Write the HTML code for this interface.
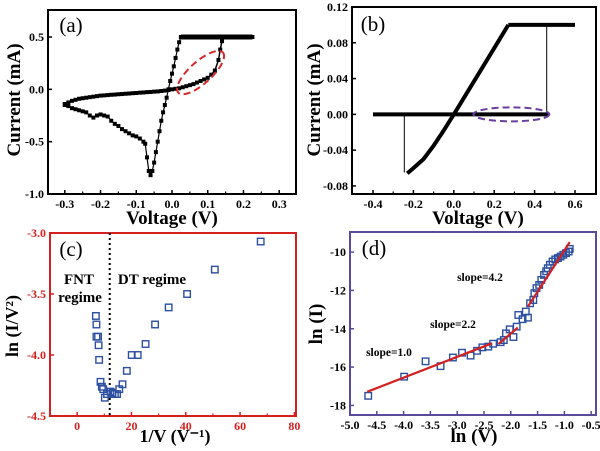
<!DOCTYPE html>
<html><head><meta charset="utf-8"><style>
html,body{margin:0;padding:0;background:#fff;}
svg{display:block;font-family:"Liberation Serif",serif;font-weight:bold;}
</style></head><body>
<svg id="fig" width="600" height="451" viewBox="0 0 600 451" xmlns="http://www.w3.org/2000/svg"></svg>
<script>
// ---- Panel (a) data ----
const aUpperV=[-0.3,-0.29,-0.28,-0.27,-0.26,-0.25,-0.24,-0.23,-0.22,-0.21,-0.2,-0.19,-0.18,-0.17,-0.16,-0.15,-0.14,-0.13,-0.12,-0.11,-0.1,-0.09,-0.08,-0.07,-0.06,-0.05,-0.04,-0.03,-0.02,-0.01,0,0.01,0.02,0.03,0.04,0.05,0.06,0.07,0.08,0.09,0.1,0.11,0.12,0.13,0.135,0.14];
const aUpperI=[-0.14,-0.125,-0.11,-0.1,-0.09,-0.085,-0.08,-0.075,-0.07,-0.065,-0.06,-0.058,-0.055,-0.052,-0.05,-0.047,-0.045,-0.042,-0.04,-0.037,-0.035,-0.032,-0.03,-0.027,-0.025,-0.022,-0.02,-0.016,-0.012,-0.006,0,0.005,0.01,0.02,0.03,0.04,0.05,0.065,0.08,0.095,0.11,0.14,0.18,0.28,0.38,0.46];
const aFlatV=[0.14,0.15,0.16,0.17,0.18,0.19,0.2,0.21,0.225,0.21,0.2,0.19,0.18,0.17,0.16,0.15,0.14,0.13,0.12,0.11,0.1,0.09,0.08,0.07,0.06,0.05,0.04,0.03,0.025];
const aFlatI=[0.5,0.5,0.5,0.5,0.5,0.5,0.5,0.5,0.5,0.5,0.5,0.5,0.5,0.5,0.5,0.5,0.5,0.5,0.5,0.5,0.5,0.5,0.5,0.5,0.5,0.5,0.5,0.5,0.5];
const aDownV=[0.025,0.02,0.015,0.01,0.005,0,-0.005,-0.01,-0.015,-0.02,-0.025,-0.03,-0.035,-0.04,-0.045,-0.05,-0.055,-0.06,-0.065,-0.07,-0.075,-0.08,-0.09,-0.1,-0.11,-0.12,-0.13,-0.14,-0.15,-0.16,-0.17,-0.18,-0.19,-0.2,-0.21,-0.22,-0.23,-0.24,-0.25,-0.26,-0.27,-0.28,-0.29,-0.3];
const aDownI=[0.5,0.45,0.38,0.3,0.22,0.15,0.08,0,-0.08,-0.15,-0.22,-0.3,-0.4,-0.5,-0.6,-0.7,-0.78,-0.82,-0.78,-0.65,-0.52,-0.5,-0.47,-0.45,-0.44,-0.42,-0.4,-0.38,-0.35,-0.33,-0.3,-0.26,-0.25,-0.24,-0.25,-0.27,-0.25,-0.22,-0.21,-0.2,-0.19,-0.18,-0.16,-0.15];
const aXTicks=[-0.3,-0.2,-0.1,0.0,0.1,0.2,0.3];
const aYTicks=[0.5,0.0,-0.5,-1.0];
// ---- Panel (b) data ----
const bZeroV=[-0.4,0.47];
const bZeroI=[0,0];
const bFlatV=[0.27,0.6];
const bFlatI=[0.1,0.1];
const bSweepV=[-0.23,-0.2,-0.15,-0.1,-0.05,0,0.1,0.2,0.27];
const bSweepI=[-0.066,-0.06,-0.05,-0.035,-0.018,0,0.037,0.074,0.1];
const bJumpV=[0.46,-0.245];
const bJumpTop=[0.1,0];
const bJumpBot=[0,-0.065];
const bXTicks=[-0.4,-0.2,0.0,0.2,0.4,0.6];
const bYTicks=[0.12,0.08,0.04,0.00,-0.04,-0.08];
// ---- Panel (c) data ----
const cX=[6.9,7.1,7.1,7.7,7.9,8.1,8.6,9.1,9.6,10.2,11,12.3,13,13.9,14.7,15.5,16.7,18.3,20.1,22.3,25.2,28.7,33.7,40.5,50.7,67.6];
const cY=[-3.68,-3.75,-3.85,-3.85,-3.92,-4.04,-4.22,-4.26,-4.28,-4.35,-4.32,-4.30,-4.31,-4.32,-4.32,-4.28,-4.24,-4.13,-4.0,-4.0,-3.91,-3.75,-3.61,-3.50,-3.30,-3.07];
const cBoundary=[12.0];
const cXTicks=[0,20,40,60,80];
const cYTicks=[-3.0,-3.5,-4.0,-4.5];
// ---- Panel (d) data ----
const dX=[-4.66,-3.99,-3.59,-3.31,-3.08,-2.91,-2.75,-2.63,-2.53,-2.42,-2.33,-2.19,-2.13,-2.09,-2.02,-1.95,-1.89,-1.86,-1.78,-1.68,-1.72,-1.64,-1.58,-1.56,-1.52,-1.47,-1.43,-1.38,-1.34,-1.31,-1.27,-1.22,-1.17,-1.12,-1.07,-1.02,-0.97,-0.92,-0.9];
const dY=[-17.5,-16.5,-15.7,-15.95,-15.5,-15.25,-15.4,-15.15,-14.97,-14.93,-14.78,-14.7,-14.59,-14.24,-14.03,-14.43,-13.89,-13.28,-13.5,-13.42,-13.1,-12.67,-12.5,-12.14,-11.88,-11.71,-11.45,-11.19,-11.0,-10.84,-10.66,-10.49,-10.38,-10.31,-10.23,-10.14,-10.05,-9.97,-9.83];
const dFitX1=[-4.68,-2.23,-1.68];
const dFitY1=[-17.29,-14.8,-12.84];
const dFitX2=[-2.35,-1.87,-0.9];
const dFitY2=[-14.76,-13.94,-9.48];
const dFitLabels=["slope=1.0","slope=2.2","slope=4.2"];
const dXTicks=[-5.0,-4.5,-4.0,-3.5,-3.0,-2.5,-2.0,-1.5,-1.0,-0.5];
const dYTicks=[-10,-12,-14,-16,-18];

const NS="http://www.w3.org/2000/svg";
const svg=document.getElementById('fig');
function mk(tag,attrs,parent,txt){const e=document.createElementNS(NS,tag);for(const k in attrs)e.setAttribute(k,attrs[k]);if(txt!==undefined)e.textContent=txt;(parent||svg).appendChild(e);return e;}
function panel(o){
  const g=mk('g',{});
  
  
  const sx=v=>o.L+(v-o.x0)/(o.x1-o.x0)*(o.R-o.L);
  const sy=v=>o.B-(v-o.y0)/(o.y1-o.y0)*(o.B-o.T);
  const box=mk('rect',{x:o.L,y:o.T,width:o.R-o.L,height:o.B-o.T,fill:'none',stroke:o.frame,'stroke-width':2},g);
  
  
  o.xt.forEach((t,i)=>{const x=sx(t);
    mk('line',{x1:x,x2:x,y1:o.B,y2:o.B-4,stroke:o.frame,'stroke-width':1.5},g);
    if(i<o.xt.length-1&&o.minor){const xm=sx(t+(o.xt[1]-o.xt[0])/2);mk('line',{x1:xm,x2:xm,y1:o.B,y2:o.B-2.5,stroke:o.frame,'stroke-width':1.2},g);}
    const tl=mk('text',{x:x,y:o.B+14,'text-anchor':'middle','font-size':12,fill:o.tc},g,o.xf(t));
    
    
  });
  o.yt.forEach(t=>{const y=sy(t);
    mk('line',{x1:o.L,x2:o.L+4,y1:y,y2:y,stroke:o.frame,'stroke-width':1.5},g);
    const tl=mk('text',{x:o.L-4,y:y+4,'text-anchor':'end','font-size':12,fill:o.tc},g,o.yf(t));
    
    
  });
  return {g,sx,sy};
}
function poly(p,xs,ys,attrs,name){const pts=xs.map((x,i)=>p.sx(x).toFixed(1)+','+p.sy(ys[i]).toFixed(1)).join(' ');const e=mk('polyline',Object.assign({points:pts,fill:'none'},attrs),p.g);return e;}
function sqs(p,xs,ys,s,attrs,name){xs.forEach((x,i)=>{const e=mk('rect',Object.assign({x:p.sx(x)-s/2,y:p.sy(ys[i])-s/2,width:s,height:s},attrs),p.g);});}
function label(txt,x,y,size,attrs,name,rot){const a=Object.assign({x:x,y:y,'font-size':size,'text-anchor':'middle'},attrs||{});if(rot)a.transform='rotate(-90 '+x+' '+y+')';const e=mk('text',a,svg,txt);return e;}

// Panel a
const pa=panel({name:'panel-a',L:48,R:296,T:10,B:194,x0:-0.347,x1:0.347,y0:-1.0,y1:0.758,xt:aXTicks,yt:aYTicks,frame:'#000',tc:'#000',minor:true,xf:t=>t.toFixed(1),yf:t=>t.toFixed(1)});
poly(pa,aUpperV,aUpperI,{stroke:'#000','stroke-width':1.5},'sweep-upper');
poly(pa,aFlatV,aFlatI,{stroke:'#000','stroke-width':1.5},'compliance-line');
poly(pa,aDownV,aDownI,{stroke:'#000','stroke-width':1.2},'sweep-lower');
sqs(pa,aUpperV,aUpperI,4,{fill:'#000'},'marker');
sqs(pa,aFlatV,aFlatI,4,{fill:'#000'},'marker');
mk('rect',{x:pa.sx(0.025),y:pa.sy(0.5)-2.5,width:pa.sx(0.225)-pa.sx(0.025),height:5,fill:'#000'},pa.g);
sqs(pa,aDownV,aDownI,4,{fill:'#000'},'marker');
mk('ellipse',{cx:pa.sx(0.08),cy:pa.sy(0.16),rx:30,ry:11,fill:'none',stroke:'#d42a2a','stroke-width':2,'stroke-dasharray':'7,4',transform:'rotate(-42 '+pa.sx(0.08)+' '+pa.sy(0.16)+')'},pa.g);
label('(a)',71,32,21,{'font-weight':'normal'},'panel-a-label');
label('Current (mA)',20,100,19,{},'panel-a-y-title',true);
label('Voltage (V)',172,224,19,{},'panel-a-x-title');

// Panel b
const pb=panel({name:'panel-b',L:352,R:596,T:7,B:194,x0:-0.504,x1:0.704,y0:-0.089,y1:0.12,xt:bXTicks,yt:bYTicks,frame:'#000',tc:'#000',minor:true,xf:t=>t.toFixed(1),yf:t=>t.toFixed(2)});
poly(pb,bZeroV,bZeroI,{stroke:'#000','stroke-width':4},'zero-current-line');
poly(pb,bFlatV,bFlatI,{stroke:'#000','stroke-width':4},'compliance-line');
poly(pb,bSweepV,bSweepI,{stroke:'#000','stroke-width':4},'sweep-line');
bJumpV.forEach((v,i)=>{const e=mk('line',{x1:pb.sx(v),x2:pb.sx(v),y1:pb.sy(bJumpTop[i]),y2:pb.sy(bJumpBot[i]),stroke:'#000','stroke-width':1},pb.g);});
mk('ellipse',{cx:pb.sx(0.285),cy:pb.sy(0),rx:38,ry:7,fill:'none',stroke:'#6a3fa0','stroke-width':2,'stroke-dasharray':'7,4'},pb.g);
label('(b)',373,31,21,{'font-weight':'normal'},'panel-b-label');
label('Current (mA)',320,100,19,{},'panel-b-y-title',true);
label('Voltage (V)',478,224,19,{},'panel-b-x-title');

// Panel c
const red='#d42020';
const pc=panel({name:'panel-c',L:50,R:296,T:233,B:416,x0:-10,x1:80.6,y0:-4.5,y1:-3.0,xt:cXTicks,yt:cYTicks,frame:red,tc:red,minor:true,xf:t=>String(t),yf:t=>t.toFixed(1)});
cBoundary.forEach(b=>{const e=mk('line',{x1:pc.sx(b),x2:pc.sx(b),y1:233,y2:416,stroke:'#000','stroke-width':2,'stroke-dasharray':'2,3'},pc.g);});
sqs(pc,cX,cY,6.5,{fill:'none',stroke:'#2c4fa0','stroke-width':1.4},'data-point');
label('(c)',71,256,21,{'font-weight':'normal'},'panel-c-label');
label('FNT',79,284,15,{},'fnt-label');
label('regime',80,302,15,{},'fnt-regime-label');
label('DT regime',152,284,15,{},'dt-regime-label');
label('ln (I/V²)',18,326,18,{},'panel-c-y-title',true);
label('1/V (V⁻¹)',175,442,18,{},'panel-c-x-title');

// Panel d
const purple='#5a4a9c';
const pd=panel({name:'panel-d',L:350,R:596,T:232,B:415,x0:-5.0,x1:-0.41,y0:-18.5,y1:-8.95,xt:dXTicks,yt:dYTicks,frame:purple,tc:'#000',minor:false,xf:t=>t.toFixed(1),yf:t=>String(t)});
sqs(pd,dX,dY,6.5,{fill:'none',stroke:'#2c4fa0','stroke-width':1.4},'data-point');
dFitX1.forEach((x,i)=>{const e=mk('line',{x1:pd.sx(x),y1:pd.sy(dFitY1[i]),x2:pd.sx(dFitX2[i]),y2:pd.sy(dFitY2[i]),stroke:'#d42020','stroke-width':2.2},pd.g);});
label(dFitLabels[0],389,356,11.5,{},'slope-label');
label(dFitLabels[1],453,328,11.5,{},'slope-label');
label(dFitLabels[2],480,281,11.5,{},'slope-label');
label('(d)',374,255,21,{'font-weight':'normal'},'panel-d-label');
label('ln (I)',322,324,19,{},'panel-d-y-title',true);
label('ln (V)',474,442,19,{},'panel-d-x-title');
</script>
</body></html>
